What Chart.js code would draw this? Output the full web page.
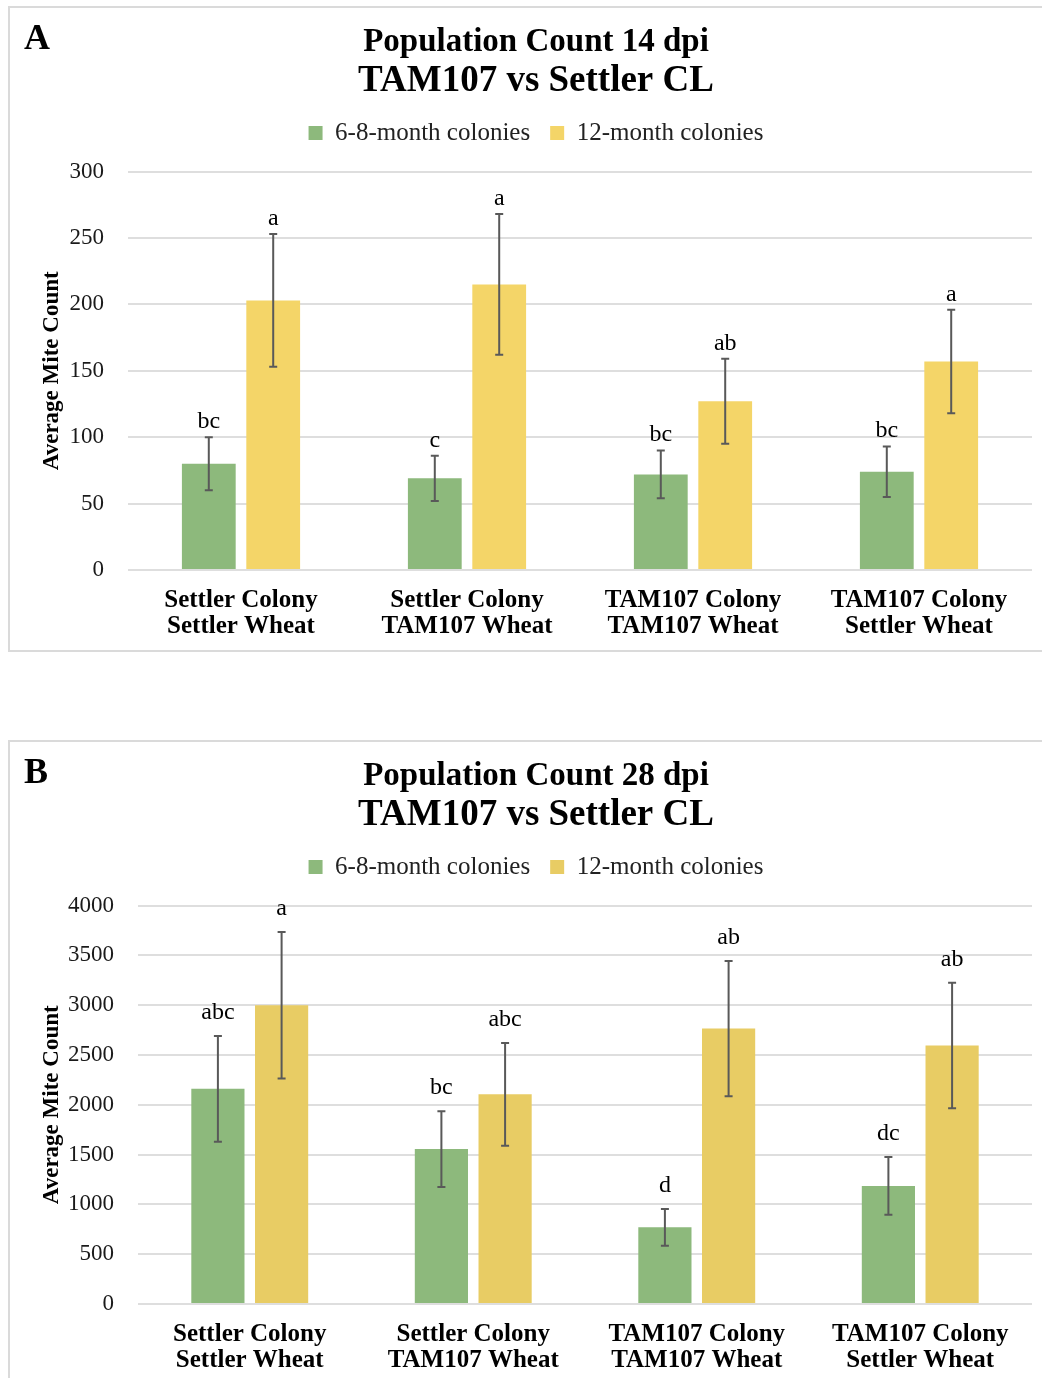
<!DOCTYPE html>
<html>
<head>
<meta charset="utf-8">
<script src="https://cdn.jsdelivr.net/npm/chart.js@4.4.1/dist/chart.umd.min.js"></script>
<style>
  html, body { margin: 0; padding: 0; background: #fff; overflow: hidden; }
  body { width: 1042px; height: 1378px; position: relative; }
  .panel { position: absolute; left: 8px; width: 1060px; height: 646px; border: 2px solid #dadada; box-sizing: border-box; }
  #panelA { top: 6px; }
  #panelB { top: 740px; }
  .panel canvas { position: absolute; left: 0; top: 0; }
</style>
</head>
<body>
<div class="panel" id="panelA"><canvas id="chartA" width="1052" height="642"></canvas></div>
<div class="panel" id="panelB"><canvas id="chartB" width="1052" height="642"></canvas></div>
<script>
// data
const categories = [
  ['Settler Colony', 'Settler Wheat'],
  ['Settler Colony', 'TAM107 Wheat'],
  ['TAM107 Colony', 'TAM107 Wheat'],
  ['TAM107 Colony', 'Settler Wheat']
];
const seriesNames = ['6-8-month colonies', '12-month colonies'];

// 14 dpi
const young14 = [80, 69, 72, 74];
const young14Err = [20, 17, 18, 19];
const young14Letters = ['bc', 'c', 'bc', 'bc'];
const old14 = [203, 215, 127, 157];
const old14Err = [50, 53, 32, 39];
const old14Letters = ['a', 'a', 'ab', 'a'];
const ticks14 = [0, 50, 100, 150, 200, 250, 300];

// 28 dpi
const young28 = [2160, 1555, 770, 1185];
const young28Err = [530, 380, 185, 290];
const young28Letters = ['abc', 'bc', 'd', 'dc'];
const old28 = [3000, 2105, 2765, 2595];
const old28Err = [735, 515, 680, 630];
const old28Letters = ['a', 'abc', 'ab', 'ab'];
const ticks28 = [0, 500, 1000, 1500, 2000, 2500, 3000, 3500, 4000];

const SERIF = '"Liberation Serif", "Times New Roman", serif';
Chart.defaults.font.family = SERIF;
Chart.defaults.color = '#000';

const GREEN = '#8db97c';

// error bars + significance letters above each bar
const errorBars = {
  id: 'errorBars',
  afterDatasetsDraw(chart, args, opts) {
    const { ctx, scales: { y } } = chart;
    ctx.save();
    chart.data.datasets.forEach((ds, i) => {
      const meta = chart.getDatasetMeta(i);
      meta.data.forEach((bar, j) => {
        const v = ds.data[j], e = ds.errors[j];
        const top = y.getPixelForValue(v + e);
        const bot = y.getPixelForValue(v - e);
        ctx.strokeStyle = '#595959';
        ctx.lineWidth = 2;
        ctx.beginPath();
        ctx.moveTo(bar.x, top); ctx.lineTo(bar.x, bot);
        ctx.moveTo(bar.x - 4, top); ctx.lineTo(bar.x + 4, top);
        ctx.moveTo(bar.x - 4, bot); ctx.lineTo(bar.x + 4, bot);
        ctx.stroke();
        ctx.fillStyle = '#000';
        ctx.font = '24px ' + SERIF;
        ctx.textAlign = 'center';
        ctx.textBaseline = 'alphabetic';
        ctx.fillText(ds.letters[j], bar.x, top - opts.gap);
      });
    });
    ctx.restore();
  }
};

const panelLetter = {
  id: 'panelLetter',
  afterDraw(chart, args, opts) {
    const ctx = chart.ctx;
    ctx.save();
    ctx.fillStyle = '#000';
    ctx.font = 'bold 36px ' + SERIF;
    ctx.textAlign = 'left';
    ctx.textBaseline = 'middle';
    ctx.fillText(opts.text, 14, 32);
    ctx.restore();
  }
};

// extra room between legend and plot
const legendGap = {
  id: 'legendGap',
  beforeInit(chart) {
    const fit = chart.legend.fit;
    chart.legend.fit = function () {
      fit.call(this);
      this.height += 16;
    };
  }
};

function makeChart(id, opts) {
  const step = opts.ticks[1] - opts.ticks[0];
  return new Chart(document.getElementById(id), {
    type: 'bar',
    data: {
      labels: categories,
      datasets: [
        {
          label: seriesNames[0],
          data: opts.young,
          errors: opts.youngErr,
          letters: opts.youngLetters,
          backgroundColor: GREEN,
          categoryPercentage: 0.57,
          barPercentage: 0.835
        },
        {
          label: seriesNames[1],
          data: opts.old,
          errors: opts.oldErr,
          letters: opts.oldLetters,
          backgroundColor: opts.yellow,
          categoryPercentage: 0.57,
          barPercentage: 0.835
        }
      ]
    },
    options: {
      responsive: false,
      animation: false,
      layout: { padding: { left: 30, right: 30, top: 0, bottom: 0 } },
      plugins: {
        title: {
          display: true,
          text: opts.title,
          font: { size: 33, weight: 'bold', lineHeight: 1.2 },
          color: '#000',
          padding: { top: 15, bottom: 0 }
        },
        subtitle: {
          display: true,
          text: 'TAM107 vs Settler CL',
          font: { size: 37, weight: 'bold', lineHeight: 1.0 },
          color: '#000',
          padding: { top: 0, bottom: 1 }
        },
        legend: {
          position: 'top',
          labels: {
            boxWidth: 14,
            boxHeight: 14,
            padding: 20,
            color: '#222',
            font: { size: 25 }
          }
        },
        tooltip: { enabled: false },
        errorBars: { gap: opts.gap },
        panelLetter: { text: opts.letter }
      },
      scales: {
        x: {
          grid: { display: false, drawTicks: false, tickLength: 0 },
          border: { display: false },
          ticks: {
            color: '#000',
            font: { size: 25, weight: 'bold', lineHeight: 1.05 },
            padding: 17,
            maxRotation: 0,
            autoSkip: false
          },
          afterFit(axis) { axis.height = 80; }
        },
        y: {
          min: opts.ticks[0],
          max: opts.ticks[opts.ticks.length - 1],
          grid: { color: '#dedede', lineWidth: 2, drawTicks: false, tickLength: 0 },
          border: { display: false },
          ticks: {
            stepSize: step,
            color: '#1a1a1a',
            font: { size: 23 },
            padding: 24,
            callback: (v) => String(v)
          },
          title: {
            display: true,
            text: 'Average Mite Count',
            color: '#000',
            font: { size: 23, weight: 'bold', lineHeight: 1.2 },
            padding: { top: -2, bottom: 0 }
          },
          afterFit(axis) { axis.width = opts.axisWidth; }
        }
      }
    },
    plugins: [errorBars, panelLetter, legendGap]
  });
}

makeChart('chartA', {
  title: 'Population Count 14 dpi',
  letter: 'A',
  young: young14, youngErr: young14Err, youngLetters: young14Letters,
  old: old14, oldErr: old14Err, oldLetters: old14Letters,
  ticks: ticks14,
  yellow: '#f4d568',
  axisWidth: 88,
  gap: 9
});

makeChart('chartB', {
  title: 'Population Count 28 dpi',
  letter: 'B',
  young: young28, youngErr: young28Err, youngLetters: young28Letters,
  old: old28, oldErr: old28Err, oldLetters: old28Letters,
  ticks: ticks28,
  yellow: '#e8cc64',
  axisWidth: 98,
  gap: 17
});
</script>
</body>
</html>
